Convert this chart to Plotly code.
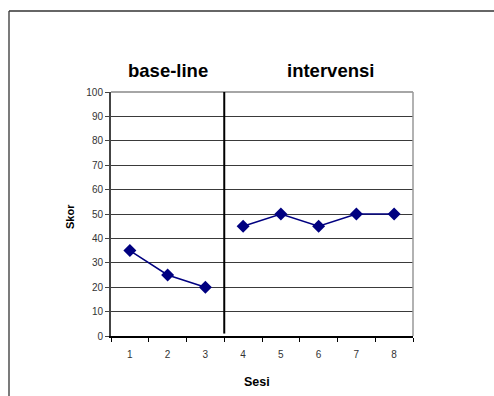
import plotly.graph_objects as go

sesi = ["1", "2", "3", "4", "5", "6", "7", "8"]
skor_baseline = [35, 25, 20, None, None, None, None, None]
skor_intervensi = [None, None, None, 45, 50, 45, 50, 50]
y_ticks = [0, 10, 20, 30, 40, 50, 60, 70, 80, 90, 100]
phase_labels = ["base-line", "intervensi"]

W, H = 494, 396
L, R, T, B = 111, 81, 92, 60
pw, ph = W - L - R, H - T - B

def px(x):
    return (x - L) / pw

def py(y):
    return (H - B - y) / ph

FONT = "Arial, Liberation Sans, sans-serif"
NAVY = "#000080"

fig = go.Figure()
for ys in (skor_baseline, skor_intervensi):
    fig.add_trace(go.Scatter(
        x=sesi, y=ys, mode="lines+markers",
        line=dict(color=NAVY, width=1.5),
        marker=dict(symbol="diamond", size=10, color=NAVY),
        connectgaps=False, showlegend=False, hoverinfo="skip"))

fig.update_layout(
    width=W, height=H,
    margin=dict(l=L, r=R, t=T, b=B),
    paper_bgcolor="white", plot_bgcolor="white",
    font=dict(family=FONT, size=10, color="#333333"),
    showlegend=False,
    xaxis=dict(
        type="category", categoryorder="array", categoryarray=sesi,
        range=[-0.5, 7.5], tickson="boundaries", ticks="outside", ticklen=4,
        tickcolor="#000000", showline=True, linecolor="#000000", linewidth=1.5,
        showgrid=False, zeroline=False, tickfont=dict(size=10, color="#333333"),
        ticklabelstandoff=8, fixedrange=True),
    yaxis=dict(
        range=[0, 100], tickvals=y_ticks, ticks="outside", ticklen=4,
        tickcolor="#444444", showline=True, linecolor="#444444", linewidth=2,
        showgrid=True, gridcolor="#3a3a3a", gridwidth=1, zeroline=False,
        tickfont=dict(size=10, color="#333333"), fixedrange=True),
)

# plot area border (top/right)
fig.add_shape(type="line", xref="paper", yref="paper", x0=0, x1=1, y0=1, y1=1,
              line=dict(color="#888888", width=1.5))
fig.add_shape(type="line", xref="paper", yref="paper", x0=1, x1=1, y0=0, y1=1,
              line=dict(color="#999999", width=1.5))

# phase separator between session 3 and 4
fig.add_shape(type="line", xref="x", yref="y", x0=2.5, x1=2.5, y0=1, y1=100,
              line=dict(color="#000000", width=2))

# outer frame (left and top)
fig.add_shape(type="line", xref="paper", yref="paper",
              x0=px(9), x1=px(9), y0=py(11), y1=py(H + 2),
              line=dict(color="#222222", width=1.2))
fig.add_shape(type="line", xref="paper", yref="paper",
              x0=px(9), x1=px(W + 2), y0=py(11), y1=py(11),
              line=dict(color="#333333", width=1.6))

# phase titles
fig.add_annotation(text="<b>" + phase_labels[0] + "</b>", xref="paper", yref="paper",
                   x=px(168), y=py(71), showarrow=False,
                   font=dict(family=FONT, size=18.5, color="#000000"),
                   xanchor="center", yanchor="middle")
fig.add_annotation(text="<b>" + phase_labels[1] + "</b>", xref="paper", yref="paper",
                   x=px(330), y=py(71), showarrow=False,
                   font=dict(family=FONT, size=18.5, color="#000000"),
                   xanchor="center", yanchor="middle")

# axis titles
fig.add_annotation(text="<b>Sesi</b>", xref="paper", yref="paper",
                   x=px(257), y=py(382), showarrow=False,
                   font=dict(family=FONT, size=12.5, color="#000000"),
                   xanchor="center", yanchor="middle")
fig.add_annotation(text="<b>Skor</b>", xref="paper", yref="paper",
                   x=px(70), y=py(217), showarrow=False, textangle=-90,
                   font=dict(family=FONT, size=11, color="#000000"),
                   xanchor="center", yanchor="middle")

fig.write_html("out.html", config={"displayModeBar": False})
